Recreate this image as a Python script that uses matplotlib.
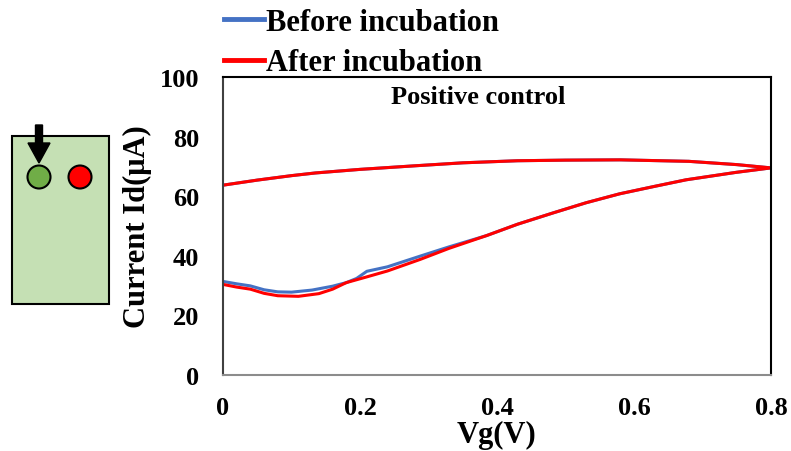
import matplotlib
matplotlib.use("Agg")
import matplotlib.pyplot as plt
from matplotlib.patches import Rectangle, Circle, FancyArrow

plt.rcParams['font.family'] = ['Liberation Serif', 'DejaVu Serif']
plt.rcParams['font.weight'] = 'bold'

#------------------------------------------- Data -------------------------------------#
# forward sweep (lower branch) then reverse sweep (upper branch)
vg_before = [0.0, 0.02, 0.04, 0.06, 0.08, 0.10, 0.13, 0.16, 0.18, 0.195, 0.21, 0.24, 0.288,
             0.33, 0.385, 0.43, 0.482, 0.53, 0.579, 0.63, 0.676, 0.749, 0.80,
             0.75, 0.68, 0.58, 0.50, 0.43, 0.35, 0.28, 0.20, 0.135, 0.10, 0.05, 0.0]
id_before = [31.4, 30.6, 29.9, 28.6, 27.9, 27.8, 28.5, 29.8, 31.0, 32.4, 34.8, 36.3, 39.9,
             43.0, 46.8, 50.6, 54.4, 57.8, 60.8, 63.3, 65.5, 68.0, 69.5,
             70.6, 71.7, 72.2, 72.1, 71.9, 71.2, 70.2, 69.0, 67.8, 66.9, 65.4, 63.7]

vg_after = [0.0, 0.02, 0.04, 0.06, 0.08, 0.11, 0.14, 0.16, 0.18, 0.208, 0.24, 0.288,
            0.33, 0.385, 0.43, 0.482, 0.53, 0.579, 0.63, 0.676, 0.749, 0.80,
            0.75, 0.68, 0.58, 0.50, 0.43, 0.35, 0.28, 0.20, 0.135, 0.10, 0.05, 0.0]
id_after = [30.4, 29.5, 28.8, 27.4, 26.6, 26.4, 27.3, 28.8, 31.0, 32.8, 34.9, 38.8,
            42.5, 46.8, 50.6, 54.4, 57.8, 60.8, 63.3, 65.5, 68.0, 69.5,
            70.6, 71.7, 72.2, 72.1, 71.9, 71.2, 70.2, 69.0, 67.8, 66.9, 65.4, 63.7]

x_ticks = [0, 0.2, 0.4, 0.6, 0.8]
x_tick_labels = ["0", "0.2", "0.4", "0.6", "0.8"]
y_ticks = [0, 20, 40, 60, 80, 100]

#--------------------------------------------- Plot -----------------------------------#
fig = plt.figure(figsize=(7.91, 4.52), dpi=100)
ax = fig.add_axes([223/791, 1 - 376/452, (771 - 223)/791, (376 - 78)/452])

ax.plot(vg_before, id_before, color="#4472c4", lw=2.2, label="Before incubation")
ax.plot(vg_after, id_after, color="#ff0000", lw=2.2, label="After incubation")

ax.set_xlim(0, 0.8)
ax.set_ylim(0, 100)
ax.set_xticks(x_ticks)
ax.set_xticklabels(x_tick_labels)
ax.set_yticks(y_ticks)
ax.tick_params(length=0, labelsize=19)
ax.tick_params(axis='x', pad=15)
ax.tick_params(axis='y', pad=17)
for lbl in ax.get_xticklabels() + ax.get_yticklabels():
    lbl.set_fontweight('bold')

ax.set_xlabel("Vg(V)", fontsize=22, fontweight='bold', labelpad=1)
ax.set_ylabel("Current Id(μA)", fontsize=22, fontweight='bold', labelpad=6)

ax.spines['left'].set_color('#404040')
ax.spines['bottom'].set_color('#8c8c8c')
ax.spines['top'].set_color('black')
ax.spines['right'].set_color('black')
for s in ax.spines.values():
    s.set_linewidth(1.5)

fig.text(478/791, 1 - 98/452, "Positive control", ha='center', va='center',
         fontsize=19, fontweight='bold')

leg = fig.legend(loc='upper left', bbox_to_anchor=(221/791, 1 - 6/452), frameon=False,
                 handlelength=1.31, handletextpad=0.07, labelspacing=0.37,
                 borderaxespad=0, borderpad=0.1, prop={'weight': 'bold', 'size': 22})
for h in leg.get_lines():
    h.set_linewidth(3.5)

#------------------------------------------ Chip sketch -------------------------------#
sk = fig.add_axes([0, 0, 1, 1], zorder=-1)
sk.set_xlim(0, 791)
sk.set_ylim(452, 0)
sk.axis('off')
sk.add_patch(Rectangle((12, 137), 97, 168, facecolor="#c5e0b4", edgecolor="black", lw=1.5))
sk.add_patch(Circle((39, 178), 11.5, facecolor="#70ad47", edgecolor="black", lw=1.5))
sk.add_patch(Circle((80, 178), 11.5, facecolor="#ff0000", edgecolor="black", lw=1.5))
sk.add_patch(FancyArrow(39, 126, 0, 38, width=7, head_width=22, head_length=20,
                        length_includes_head=True, color="black"))

fig.savefig("out.png", dpi=100)
